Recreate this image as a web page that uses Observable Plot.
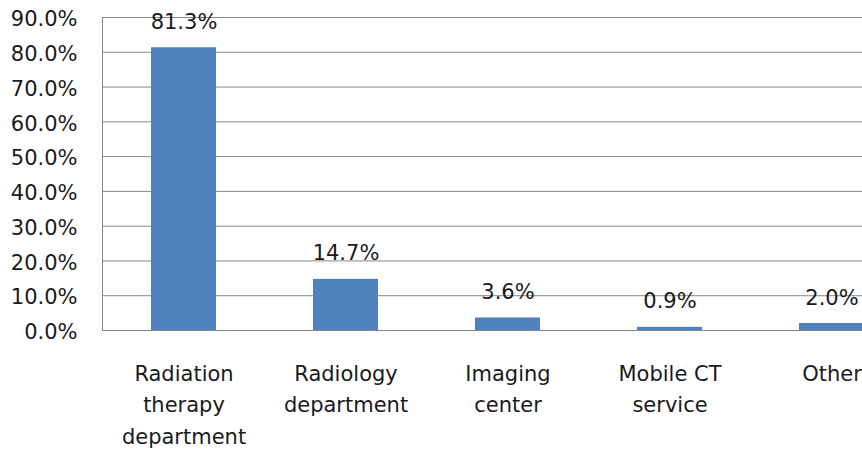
<!DOCTYPE html>
<html>
<head>
<meta charset="utf-8">
<script src="https://cdn.jsdelivr.net/npm/d3@7"></script>
<script src="https://cdn.jsdelivr.net/npm/@observablehq/plot@0.6"></script>
<style>
  html, body { margin: 0; padding: 0; background: #fff; overflow: hidden; }
</style>
</head>
<body>
<div id="chart"></div>
<script>
const categories = ["Radiation therapy department", "Radiology department", "Imaging center", "Mobile CT service", "Other"];
const categoryLabels = ["Radiation\ntherapy\ndepartment", "Radiology\ndepartment", "Imaging\ncenter", "Mobile CT\nservice", "Other"];
const values = [81.3, 14.7, 3.6, 0.9, 2.0];
const yTicks = [0, 10, 20, 30, 40, 50, 60, 70, 80, 90];

const data = categories.map((c, i) => ({category: c, label: categoryLabels[i], value: values[i]}));

const font = "DejaVu Sans";
const chart = Plot.plot({
  width: 862,
  height: 453,
  marginLeft: 102,
  marginRight: 0,
  marginTop: 17,
  marginBottom: 123,
  style: {fontFamily: font, fontSize: "21px", color: "#1a1a1a", background: "#fff", overflow: "hidden"},
  x: {domain: categories, range: [102, 912], paddingInner: 0.6, paddingOuter: 0.3, axis: null},
  y: {domain: [0, 90], axis: null},
  marks: [
    Plot.gridY(yTicks, {stroke: "#868686", strokeOpacity: 1, strokeWidth: 1}),
    Plot.frame({anchor: "left", stroke: "#868686"}),
    Plot.axisY(yTicks, {tickSize: 0, tickPadding: 25, tickFormat: d => d.toFixed(1) + "%", label: null, dy: 2, fontSize: 21}),
    Plot.barY(data, {x: "category", y: "value", fill: "#4F81BD"}),
    Plot.text(data, {x: "category", y: "value", text: d => d.value.toFixed(1) + "%", lineAnchor: "bottom", dy: -19, fontSize: 21, fill: "#1a1a1a"}),
    Plot.text(data, {x: "category", y: () => 0, text: "label", lineAnchor: "top", dy: 28, lineHeight: 1.5, fontSize: 21, fill: "#1a1a1a"})
  ]
});
document.getElementById("chart").appendChild(chart);
</script>
</body>
</html>
